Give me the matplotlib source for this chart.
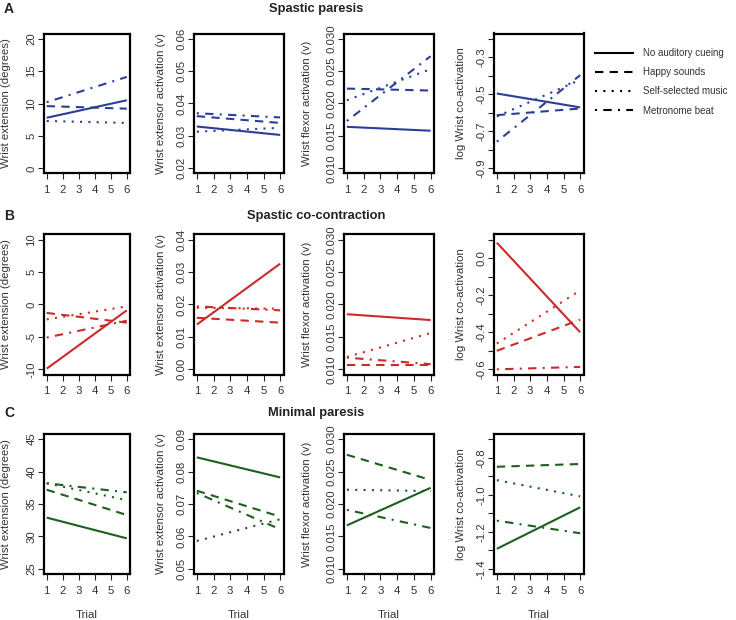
import matplotlib
matplotlib.use("Agg")
import matplotlib.pyplot as plt
from matplotlib.lines import Line2D

plt.rcParams['font.family'] = ['Liberation Sans', 'DejaVu Sans']

# ---------------- data ----------------
trials = [1, 6]
conditions = ["No auditory cueing", "Happy sounds", "Self-selected music", "Metronome beat"]
group_titles = ["Spastic paresis", "Spastic co-contraction", "Minimal paresis"]
group_letters = ["A", "B", "C"]
measure_labels = ["Wrist extension (degrees)", "Wrist extensor activation (v)",
                  "Wrist flexor activation (v)", "log Wrist co-activation"]
x_ticks = [1, 2, 3, 4, 5, 6]

# each list: [no cueing, happy sounds, self-selected music, metronome] as [trial 1, trial 6]
paresis_extension = [[7.8, 10.5], [9.6, 9.2], [7.3, 7.0], [10.2, 14.1]]
paresis_extensor = [[0.0329, 0.0303], [0.0361, 0.0340], [0.0313, 0.0325], [0.0370, 0.0357]]
paresis_flexor = [[0.0164, 0.0158], [0.0223, 0.0220], [0.0205, 0.0253], [0.0173, 0.0273]]
paresis_coact = [[-0.496, -0.571], [-0.613, -0.577], [-0.620, -0.422], [-0.756, -0.397]]

cocontr_extension = [[-9.9, -0.9], [-1.3, -2.8], [-2.3, -0.3], [-5.1, -2.5]]
cocontr_extensor = [[0.0138, 0.0326], [0.0159, 0.0144], [0.0190, 0.0187], [0.0194, 0.0182]]
cocontr_flexor = [[0.0185, 0.0176], [0.0107, 0.0107], [0.0119, 0.0156], [0.0118, 0.0108]]
cocontr_coact = [[0.084, -0.400], [-0.500, -0.332], [-0.461, -0.174], [-0.600, -0.587]]

minimal_extension = [[32.9, 29.7], [37.2, 33.3], [38.2, 35.6], [38.2, 36.8]]
minimal_extensor = [[0.0844, 0.0782], [0.0741, 0.0661], [0.0586, 0.0653], [0.0734, 0.0622]]
minimal_flexor = [[0.0167, 0.0225], [0.0276, 0.0237], [0.0222, 0.0220], [0.0191, 0.0163]]
minimal_coact = [[-1.292, -1.068], [-0.849, -0.834], [-0.921, -1.009], [-1.140, -1.208]]

# y ticks and labels per panel
paresis_yticks = [[0, 5, 10, 15, 20], [0.02, 0.03, 0.04, 0.05, 0.06],
                  [0.010, 0.015, 0.020, 0.025, 0.030],
                  [-0.9, -0.8, -0.7, -0.6, -0.5, -0.4, -0.3, -0.2]]
paresis_ylabels = [["0", "5", "10", "15", "20"], ["0.02", "0.03", "0.04", "0.05", "0.06"],
                   ["0.010", "0.015", "0.020", "0.025", "0.030"],
                   ["-0.9", "", "-0.7", "", "-0.5", "", "-0.3", ""]]
cocontr_yticks = [[-10, -5, 0, 5, 10], [0.00, 0.01, 0.02, 0.03, 0.04],
                  [0.010, 0.015, 0.020, 0.025, 0.030],
                  [-0.6, -0.5, -0.4, -0.3, -0.2, -0.1, 0.0, 0.1]]
cocontr_ylabels = [["-10", "-5", "0", "5", "10"], ["0.00", "0.01", "0.02", "0.03", "0.04"],
                   ["0.010", "0.015", "0.020", "0.025", "0.030"],
                   ["-0.6", "", "-0.4", "", "-0.2", "", "0.0", ""]]
minimal_yticks = [[25, 30, 35, 40, 45], [0.05, 0.06, 0.07, 0.08, 0.09],
                  [0.010, 0.015, 0.020, 0.025, 0.030],
                  [-1.4, -1.3, -1.2, -1.1, -1.0, -0.9, -0.8, -0.7]]
minimal_ylabels = [["25", "30", "35", "40", "45"], ["0.05", "0.06", "0.07", "0.08", "0.09"],
                   ["0.010", "0.015", "0.020", "0.025", "0.030"],
                   ["-1.4", "", "-1.2", "", "-1.0", "", "-0.8", ""]]

group_colors = ["#2b3f99", "#cc2a2a", "#1e5e1e"]

# ---------------- styling ----------------
line_styles = ["-", (0, (4, 3)), (0, (1, 3)), (0, (1, 3, 4, 3))]
LW = 1.5
FS = 8.2

W, H = 736, 620
fig = plt.figure(figsize=(W / 100, H / 100), dpi=100)

col_px = [(43.5, 130.0), (193.5, 283.5), (343.5, 434.0), (493.5, 583.5)]
row_px = [(33.5, 173.5), (234.5, 374.5), (434.0, 574.0)]
ylabel_center_px = [38.0, 33.5, 37.0, 33.5]

groups = [
    [paresis_extension, paresis_extensor, paresis_flexor, paresis_coact],
    [cocontr_extension, cocontr_extensor, cocontr_flexor, cocontr_coact],
    [minimal_extension, minimal_extensor, minimal_flexor, minimal_coact],
]
yticks_all = [paresis_yticks, cocontr_yticks, minimal_yticks]
ylabels_all = [paresis_ylabels, cocontr_ylabels, minimal_ylabels]

title_y_px = [9, 216, 413]

for r, panels in enumerate(groups):
    top, bot = row_px[r]
    color = group_colors[r]
    for c, series in enumerate(panels):
        left, right = col_px[c]
        ax = fig.add_axes([left / W, 1 - bot / H, (right - left) / W, (bot - top) / H])
        for s, vals in enumerate(series):
            ax.plot(trials, vals, color=color, lw=LW, linestyle=line_styles[s],
                    solid_capstyle='butt', dash_capstyle='butt')
        yt = yticks_all[r][c]
        span = yt[-1] - yt[0]
        ax.set_ylim(yt[0] - 0.04 * span, yt[-1] + 0.04 * span)
        ax.set_xlim(1 - 0.04 * 5, 6 + 0.04 * 5)
        ax.set_xticks(x_ticks)
        ax.set_xticklabels([str(t) for t in x_ticks])
        ax.set_yticks(yt)
        ax.set_yticklabels(ylabels_all[r][c])
        ax.tick_params(axis='both', direction='out', length=4, width=0.8,
                       labelsize=FS, colors='#222222', labelcolor='#333333')
        ax.tick_params(axis='x', pad=4.5)
        ax.tick_params(axis='y', pad=1, labelrotation=90)
        for lab in ax.get_yticklabels():
            lab.set_va('center')
        for sp in ax.spines.values():
            sp.set_linewidth(1.6)
            sp.set_color('black')
        ax.set_ylabel(measure_labels[c], fontsize=FS, color='#333333')
        wpx = right - left
        ax.yaxis.set_label_coords(-(ylabel_center_px[c] - 5.5) / wpx, 0.5)
        if r == 2:
            ax.set_xlabel("Trial", fontsize=FS, color='#333333', labelpad=10)
    fig.text(316 / W, 1 - title_y_px[r] / H, group_titles[r], ha='center', va='center',
             fontsize=9.3, fontweight='bold', color='#222222')
    fig.text(4 / W, 1 - title_y_px[r] / H, group_letters[r], ha='left', va='center',
             fontsize=10, fontweight='bold', color='#222222')

handles = [Line2D([0], [0], color='black', lw=LW, linestyle=ls) for ls in line_styles]
fig.legend(handles, conditions, loc='upper left', bbox_to_anchor=(595 / W, 1 - 48 / H),
           frameon=False, fontsize=7, handlelength=3.9, handletextpad=1.0,
           labelspacing=0.95, borderpad=0, borderaxespad=0, labelcolor='#333333')

fig.savefig("out.png", dpi=100)
